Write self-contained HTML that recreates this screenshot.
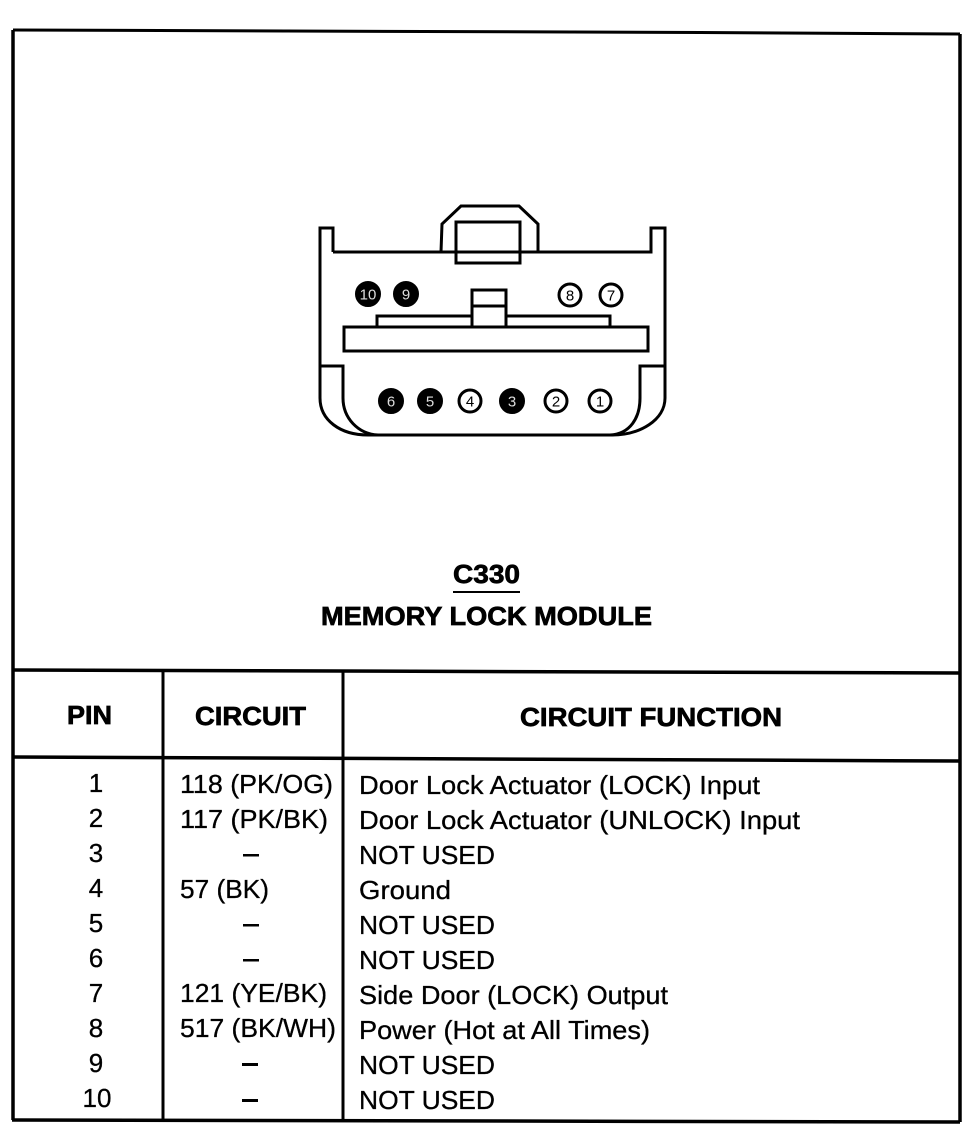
<!DOCTYPE html>
<html>
<head>
<meta charset="utf-8">
<style>
html,body{margin:0;padding:0;background:#fff}
svg{display:block}
text{font-family:"Liberation Sans",sans-serif;font-size:26px;fill:#000;stroke:#000;stroke-width:.3px}
text.b{font-weight:bold;stroke-width:.7px}
text.n{font-size:15px;text-anchor:middle;stroke:none}
text.w{fill:#ddd}
.l{fill:none;stroke:#000;stroke-width:3}
</style>
</head>
<body>
<svg width="972" height="1136" viewBox="0 0 972 1136" xmlns="http://www.w3.org/2000/svg">
<rect width="972" height="1136" fill="#fff"/>

<!-- frame and table lines -->
<g fill="none" stroke="#000">
<path stroke-width="3" d="M13 30L700 32.500L960 34"/>
<path stroke-width="3.500" d="M13 30V1120M960 34V1122"/>
<path stroke-width="3.500" d="M13 670L960 673M13 757L960 761M12 1120L960 1122"/>
<path stroke-width="3" d="M163 670V1121M343 671V1122"/>
</g>

<!-- connector -->
<path class="l" d="M333 252V228H320V398C320 420 340 435 368 435H612C640 435 665 420 665 398V228H651V252H333"/>
<path class="l" d="M441 252L442 224L461 206H519L538 224V252"/>
<rect class="l" x="456" y="222" width="64" height="41"/>
<rect class="l" x="344" y="327" width="304" height="24"/>
<path class="l" d="M377 327V316H472M506 316H610V327"/>
<path class="l" d="M472 327V290H506V327M472 306H506"/>
<path class="l" d="M321 366H343V398C343 418 358 434 378 435"/>
<path class="l" d="M665 366H640V398C640 418 630 434 610 435"/>
<g stroke="#000" stroke-width="3">
<circle cx="368" cy="294" r="11.500"/>
<circle cx="406" cy="294" r="11.500"/>
<circle cx="391" cy="401" r="11.500"/>
<circle cx="430" cy="401" r="11.500"/>
<circle cx="512" cy="401" r="11.500"/>
<g fill="#fff">
<circle cx="570" cy="295" r="11"/>
<circle cx="611" cy="295" r="11"/>
<circle cx="470" cy="401" r="11"/>
<circle cx="556" cy="401" r="11"/>
<circle cx="600" cy="401" r="11"/>
</g>
</g>
<text class="n w" x="368" y="299.500">10</text>
<text class="n w" x="406" y="299.500">9</text>
<text class="n" x="570" y="300.500">8</text>
<text class="n" x="611" y="300.500">7</text>
<text class="n w" x="391" y="406.500">6</text>
<text class="n w" x="430" y="406.500">5</text>
<text class="n" x="470" y="406.500">4</text>
<text class="n w" x="512" y="406.500">3</text>
<text class="n" x="556" y="406.500">2</text>
<text class="n" x="600" y="406.500">1</text>

<!-- title -->
<text class="b" x="453" y="583" textLength="67" lengthAdjust="spacingAndGlyphs">C330</text>
<rect x="453" y="591" width="67" height="2"/>
<text class="b" x="321" y="625" textLength="331" lengthAdjust="spacingAndGlyphs">MEMORY LOCK MODULE</text>

<!-- headers -->
<text class="b" x="67" y="724" textLength="45" lengthAdjust="spacingAndGlyphs">PIN</text>
<text class="b" x="195" y="725" textLength="111" lengthAdjust="spacingAndGlyphs">CIRCUIT</text>
<text class="b" x="520" y="726" textLength="262" lengthAdjust="spacingAndGlyphs">CIRCUIT FUNCTION</text>

<!-- pin column -->
<g text-anchor="middle">
<text x="96" y="792">1</text>
<text x="96" y="827">2</text>
<text x="96" y="862">3</text>
<text x="96" y="897">4</text>
<text x="96" y="932">5</text>
<text x="96" y="967">6</text>
<text x="96" y="1002">7</text>
<text x="96" y="1037">8</text>
<text x="96" y="1072">9</text>
<text x="97" y="1107">10</text>
</g>

<!-- circuit column -->
<text x="180" y="793" textLength="153" lengthAdjust="spacingAndGlyphs">118 (PK/OG)</text>
<text x="180" y="828" textLength="148" lengthAdjust="spacingAndGlyphs">117 (PK/BK)</text>
<rect x="243" y="854" width="16" height="2.500"/>
<text x="180" y="898" textLength="89" lengthAdjust="spacingAndGlyphs">57 (BK)</text>
<rect x="243" y="924" width="16" height="2.500"/>
<rect x="243" y="959" width="16" height="2.500"/>
<text x="180" y="1002" textLength="147" lengthAdjust="spacingAndGlyphs">121 (YE/BK)</text>
<text x="180" y="1037" textLength="156" lengthAdjust="spacingAndGlyphs">517 (BK/WH)</text>
<rect x="242" y="1063" width="16" height="3"/>
<rect x="242" y="1099" width="16" height="3"/>

<!-- function column -->
<text x="359" y="794" textLength="401" lengthAdjust="spacingAndGlyphs">Door Lock Actuator (LOCK) Input</text>
<text x="359" y="829" textLength="441" lengthAdjust="spacingAndGlyphs">Door Lock Actuator (UNLOCK) Input</text>
<text x="359" y="864" textLength="136" lengthAdjust="spacingAndGlyphs">NOT USED</text>
<text x="359" y="899" textLength="92" lengthAdjust="spacingAndGlyphs">Ground</text>
<text x="359" y="934" textLength="136" lengthAdjust="spacingAndGlyphs">NOT USED</text>
<text x="359" y="969" textLength="136" lengthAdjust="spacingAndGlyphs">NOT USED</text>
<text x="359" y="1004" textLength="309" lengthAdjust="spacingAndGlyphs">Side Door (LOCK) Output</text>
<text x="359" y="1039" textLength="291" lengthAdjust="spacingAndGlyphs">Power (Hot at All Times)</text>
<text x="359" y="1074" textLength="136" lengthAdjust="spacingAndGlyphs">NOT USED</text>
<text x="359" y="1109" textLength="136" lengthAdjust="spacingAndGlyphs">NOT USED</text>
</svg>
</body>
</html>
